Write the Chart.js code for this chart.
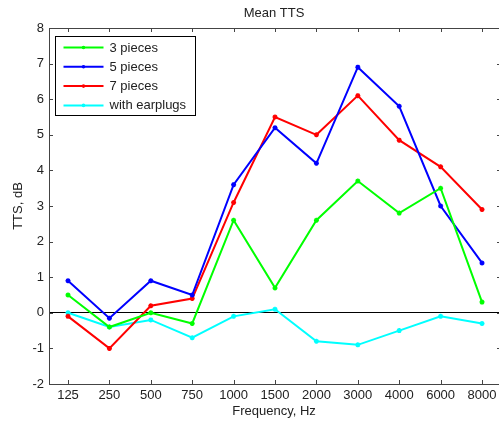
<!DOCTYPE html>
<html>
<head>
<meta charset="utf-8">
<script src="https://cdn.jsdelivr.net/npm/chart.js@4/dist/chart.umd.min.js"></script>
<style>
  html, body { margin: 0; padding: 0; background: #fff; overflow: hidden; }
  #wrap { position: relative; width: 499px; height: 421px; }
</style>
</head>
<body>
<div id="wrap"><canvas id="chart1"></canvas></div>
<script>
// frequencies (Hz) shown on the x axis
const freqs = ['125', '250', '500', '750', '1000', '1500', '2000', '3000', '4000', '6000', '8000'];

// mean TTS in dB
const pieces3 = [0.5, -0.4, 0.0, -0.3, 2.6, 0.7, 2.6, 3.7, 2.8, 3.5, 0.3];
const pieces5 = [0.9, -0.15, 0.9, 0.5, 3.6, 5.2, 4.2, 6.9, 5.8, 3.0, 1.4];
const pieces7 = [-0.1, -1.0, 0.2, 0.4, 3.1, 5.5, 5.0, 6.1, 4.85, 4.1, 2.9];
const earplugs = [0.0, -0.4, -0.2, -0.7, -0.1, 0.1, -0.8, -0.9, -0.5, -0.1, -0.3];

const seriesNames = ['3 pieces', '5 pieces', '7 pieces', 'with earplugs'];
const seriesColors = ['#00ff00', '#0000ff', '#ff0000', '#00ffff'];

const yTicks = [-2, -1, 0, 1, 2, 3, 4, 5, 6, 7, 8];

const font13 = { family: 'Liberation Sans, Arial, sans-serif', size: 13 };
const axisColor = '#444';

function toPoints(arr) {
    return arr.map(function (v, i) { return { x: i, y: v }; });
}

const allSeries = [pieces3, pieces5, pieces7, earplugs];
const datasets = allSeries.map(function (arr, k) {
    return {
        label: seriesNames[k],
        data: toPoints(arr),
        borderColor: seriesColors[k],
        backgroundColor: seriesColors[k],
        borderWidth: 2,
        pointStyle: 'star',
        pointRadius: 2.5,
        pointBorderWidth: 1.5,
        tension: 0
    };
});

// frame with inward ticks, matlab style, plus legend box inside plot
const frameAndLegend = {
    id: 'frameAndLegend',
    afterDatasetsDraw(chart) {
        const ctx = chart.ctx;
        const a = chart.chartArea;
        const xs = chart.scales.x;
        const ys = chart.scales.y;
        ctx.save();
        ctx.strokeStyle = axisColor;
        ctx.lineWidth = 1;
        ctx.beginPath();
        // top line
        ctx.moveTo(a.left, a.top + 0.5);
        ctx.lineTo(a.right, a.top + 0.5);
        // x ticks top and bottom
        freqs.forEach(function (f, i) {
            const px = Math.round(xs.getPixelForValue(i)) + 0.5;
            ctx.moveTo(px, a.bottom);
            ctx.lineTo(px, a.bottom - 4);
            ctx.moveTo(px, a.top);
            ctx.lineTo(px, a.top + 4);
        });
        // y ticks left and right
        yTicks.forEach(function (v) {
            const py = Math.round(ys.getPixelForValue(v)) + 0.5;
            ctx.moveTo(a.left, py);
            ctx.lineTo(a.left + 4, py);
            ctx.moveTo(a.right - 2, py);
            ctx.lineTo(a.right + 2, py);
        });
        ctx.stroke();

        // legend
        const bx = a.left + 6.5, by = a.top + 8.5, bw = 140, bh = 79;
        ctx.fillStyle = '#fff';
        ctx.fillRect(bx, by, bw, bh);
        ctx.strokeStyle = '#000';
        ctx.strokeRect(bx, by, bw, bh);
        ctx.font = '13px ' + font13.family;
        ctx.textBaseline = 'middle';
        ctx.textAlign = 'left';
        seriesNames.forEach(function (name, k) {
            const ry = by + 11 + k * 19.3;
            ctx.strokeStyle = seriesColors[k];
            ctx.lineWidth = 2;
            ctx.beginPath();
            ctx.moveTo(bx + 8, ry);
            ctx.lineTo(bx + 48, ry);
            ctx.stroke();
            ctx.fillStyle = seriesColors[k];
            ctx.beginPath();
            ctx.arc(bx + 28, ry, 1.8, 0, Math.PI * 2);
            ctx.fill();
            ctx.fillStyle = '#222';
            ctx.fillText(name, bx + 54, ry + 0.5);
        });
        ctx.restore();
    }
};

const config = {
    type: 'line',
    data: { datasets: datasets },
    options: {
        responsive: false,
        animation: false,
        devicePixelRatio: 1,
        layout: { autoPadding: false, padding: { left: 0, right: 0, top: 0, bottom: 0 } },
        scales: {
            x: {
                type: 'linear',
                min: -0.459,
                max: 10.41,
                afterFit: function (s) {
                    s.height = 37;
                    s.paddingLeft = 0;
                    s.paddingRight = 0;
                },
                afterBuildTicks: function (s) {
                    s.ticks = freqs.map(function (f, i) { return { value: i }; });
                },
                ticks: {
                    font: font13,
                    color: '#222',
                    padding: 4,
                    maxRotation: 0,
                    autoSkip: false,
                    callback: function (v) { return freqs[v]; }
                },
                grid: { display: false, drawTicks: false },
                border: { display: true, color: axisColor, width: 1 },
                title: {
                    display: true,
                    text: 'Frequency, Hz',
                    font: font13,
                    color: '#222',
                    padding: { top: 0, bottom: 2 }
                }
            },
            y: {
                min: -2,
                max: 8,
                afterFit: function (s) {
                    s.width = 49;
                    s.paddingTop = 0;
                    s.paddingBottom = 0;
                },
                afterBuildTicks: function (s) {
                    s.ticks = yTicks.map(function (v) { return { value: v }; });
                },
                ticks: {
                    font: font13,
                    color: '#222',
                    padding: 5
                },
                grid: {
                    drawTicks: false,
                    color: function (c) { return c.tick && c.tick.value === 0 ? '#000' : 'rgba(0,0,0,0)'; },
                    lineWidth: 1
                },
                border: { display: true, color: axisColor, width: 1 },
                title: {
                    display: true,
                    text: 'TTS, dB',
                    font: font13,
                    color: '#222',
                    padding: { top: 11, bottom: 0 }
                }
            }
        },
        plugins: {
            legend: { display: false },
            tooltip: { enabled: false },
            title: {
                display: true,
                text: 'Mean TTS',
                fullSize: false,
                font: { family: font13.family, size: 13, weight: 'normal' },
                color: '#222',
                padding: { top: 5.7, bottom: 6.7 }
            }
        }
    },
    plugins: [frameAndLegend]
};

const canvas = document.getElementById('chart1');
canvas.width = 499;
canvas.height = 421;
var myLinechart = new Chart(canvas, config);
</script>
</body>
</html>
